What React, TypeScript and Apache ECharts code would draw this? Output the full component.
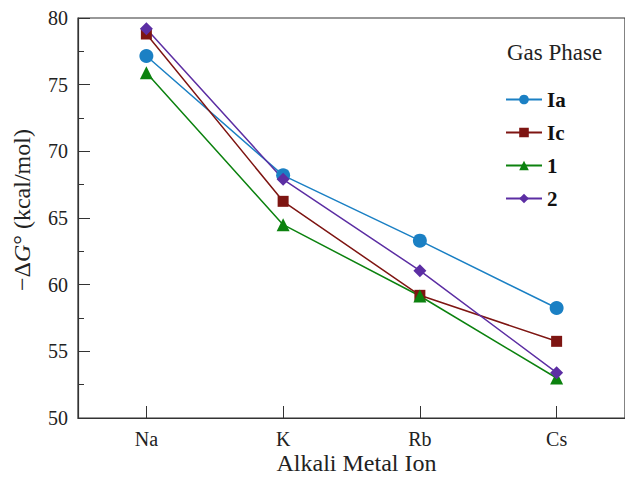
import React, { useEffect, useRef } from "react";
import * as echarts from "echarts";

const categories = ["Na", "K", "Rb", "Cs"];
const seriesNames = ["Ia", "Ic", "1", "2"];
const valuesIa = [77.15, 68.2, 63.3, 58.25];
const valuesIc = [78.8, 66.25, 59.2, 55.75];
const values1 = [75.9, 64.5, 59.15, 53.0];
const values2 = [79.2, 67.9, 61.05, 53.4];
const colors = ["#1b80c4", "#7e1512", "#0c820f", "#5c2ea3"];
const symbols = ["circle", "rect", "triangle", "diamond"];
const symbolSizes = [14, 11, 13, 13];

const FONT = "'Liberation Serif', 'DejaVu Serif', serif";

export default function App() {
  const ref = useRef<HTMLDivElement>(null);
  useEffect(() => {
    if (!ref.current) return;
    const chart = echarts.init(ref.current, undefined, { renderer: "svg" });
    const data = [valuesIa, valuesIc, values1, values2];
    chart.setOption({
      animation: false,
      backgroundColor: "#fff",
      textStyle: { fontFamily: FONT },
      title: {
        text: "Gas Phase",
        left: 502,
        top: 36,
        textStyle: { fontFamily: FONT, fontSize: 23, fontWeight: "normal", color: "#222" },
      },
      legend: {
        orient: "vertical",
        left: 500,
        top: 84,
        itemWidth: 36,
        itemHeight: 12,
        itemGap: 12,
        data: seriesNames,
        textStyle: { fontFamily: FONT, fontSize: 21, fontWeight: "bold", color: "#111" },
      },
      grid: {
        left: 78,
        right: 0,
        top: 18,
        bottom: 59,
        outerBoundsMode: "none",
        containLabel: false,
        show: true,
        borderColor: "#333",
        borderWidth: 1.2,
      },
      xAxis: {
        type: "category",
        data: categories,
        boundaryGap: true,
        name: "Alkali Metal Ion",
        nameLocation: "middle",
        nameGap: 33,
        nameMoveOverlap: false,
        nameTextStyle: { fontFamily: FONT, fontSize: 24, color: "#222", padding: [0, 0, 0, 10] },
        axisLine: { lineStyle: { color: "#333", width: 1.2 } },
        axisTick: { show: true, inside: true, alignWithLabel: true, length: 12, lineStyle: { color: "#333" } },
        axisLabel: { fontFamily: FONT, fontSize: 20, color: "#222", margin: 11 },
        splitLine: { show: false },
      },
      yAxis: {
        type: "value",
        min: 50,
        max: 80,
        interval: 5,
        name: "−Δ{i|G}° (kcal/mol)",
        nameLocation: "middle",
        nameGap: 44,
        nameMoveOverlap: false,
        nameRotate: 90,
        nameTextStyle: {
          fontFamily: FONT,
          fontSize: 24,
          color: "#222",
          padding: [0, 0, 0, 16],
          rich: { i: { fontFamily: FONT, fontSize: 24, fontStyle: "italic", color: "#222" } },
        },
        axisLine: { show: true, lineStyle: { color: "#333", width: 1.2 } },
        axisTick: { show: true, inside: true, length: 12, lineStyle: { color: "#333" } },
        minorTick: { show: true, splitNumber: 2, length: 6, lineStyle: { color: "#333" } },
        axisLabel: { fontFamily: FONT, fontSize: 20, color: "#222", margin: 10 },
        splitLine: { show: false },
      },
      series: seriesNames.map((name, i) => ({
        name,
        type: "line",
        data: data[i],
        symbol: symbols[i],
        symbolSize: symbolSizes[i],
        showAllSymbol: true,
        itemStyle: { color: colors[i] },
        lineStyle: { color: colors[i], width: 1.5 },
        emphasis: { disabled: true },
      })),
    });
    return () => chart.dispose();
  }, []);
  return (
    <div
      ref={ref}
      style={{ position: "fixed", left: 0, top: 0, width: 625, height: 477 }}
    />
  );
}
